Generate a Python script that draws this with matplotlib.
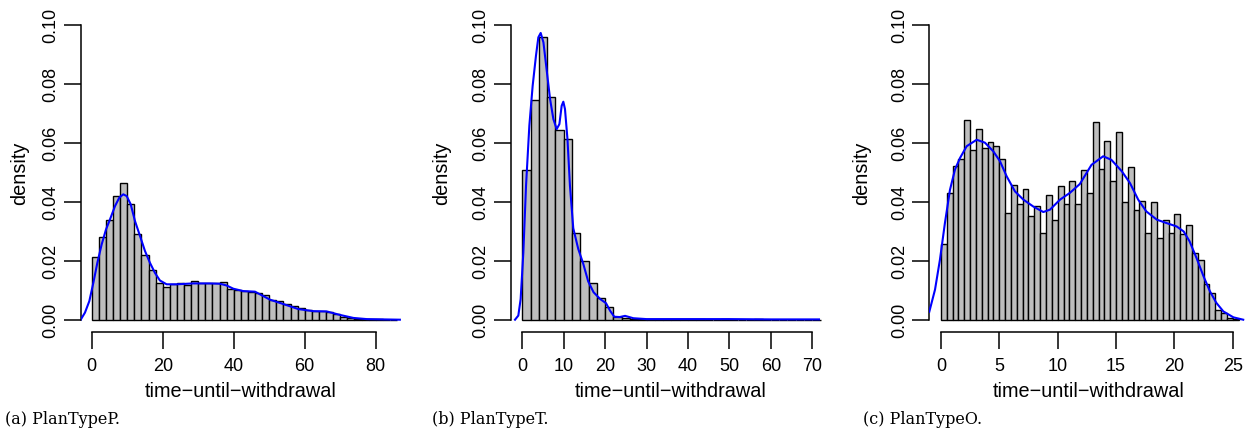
import matplotlib
matplotlib.use('Agg')
import matplotlib.pyplot as plt
import numpy as np

# histogram bar heights (density)
p_bin_width = 2
p_heights = [0.0214, 0.0280, 0.0338, 0.0421, 0.0463, 0.0391, 0.0289, 0.0218, 0.0168, 0.0125,
             0.0111, 0.0120, 0.0123, 0.0116, 0.0130, 0.0125, 0.0123, 0.0123, 0.0128, 0.0105,
             0.0101, 0.0096, 0.0094, 0.0092, 0.0085, 0.0068, 0.0062, 0.0052, 0.0047, 0.0040,
             0.0032, 0.0029, 0.0029, 0.0025, 0.0018, 0.0010, 0.0005, 0.0003, 0.0002, 0.0001,
             0.0001, 0.0, 0.0]

t_bin_width = 2
t_heights = [0.0508, 0.0745, 0.0957, 0.0756, 0.0643, 0.0612, 0.0294, 0.0199, 0.0126, 0.0075,
             0.0042, 0.0008, 0.0006, 0.0004, 0.0003, 0.0002, 0.0002, 0.0001, 0.0001, 0.0001,
             0.0001, 0.0001, 0.0, 0.0, 0.0001, 0.0, 0.0, 0.0, 0.0001, 0.0,
             0.0, 0.0, 0.0, 0.0, 0.0, 0.0]

o_bin_width = 0.5
o_heights = [0.0257, 0.0428, 0.0520, 0.0545, 0.0676, 0.0576, 0.0647, 0.0582, 0.0601, 0.0588,
             0.0546, 0.0362, 0.0458, 0.0392, 0.0443, 0.0353, 0.0384, 0.0294, 0.0424, 0.0337,
             0.0454, 0.0393, 0.0470, 0.0391, 0.0506, 0.0429, 0.0670, 0.0512, 0.0605, 0.0469,
             0.0636, 0.0398, 0.0518, 0.0373, 0.0401, 0.0294, 0.0398, 0.0277, 0.0337, 0.0294,
             0.0358, 0.0292, 0.0320, 0.0226, 0.0203, 0.0122, 0.0090, 0.0034, 0.0023, 0.0006,
             0.0002]

# density curves (blue)
p_curve_x = [-3.1, -1.9, -0.67, 0.46, 1.59, 2.8, 4.03, 5.15, 6.56, 7.78, 8.9, 9.86, 10.99, 12.2,
             13.6, 15.0, 16.4, 17.8, 19.2, 21.1, 23.9, 28.6, 33.3, 36.1, 38.0, 39.9, 42.7, 46.0,
             50.2, 54.0, 58.2, 62.4, 66.2, 70.0, 73.7, 77.5, 86.8]
p_curve_y = [0.0, 0.0024, 0.0063, 0.0125, 0.0193, 0.0255, 0.0306, 0.0340, 0.0385, 0.0414, 0.0425,
             0.0419, 0.0391, 0.0334, 0.0284, 0.0233, 0.0193, 0.0159, 0.0133, 0.0120, 0.0120,
             0.0123, 0.0123, 0.0122, 0.0116, 0.0105, 0.0097, 0.0095, 0.0068, 0.0053, 0.0036,
             0.0029, 0.0028, 0.0016, 0.0006, 0.0002, 0.0]

t_curve_x = [-1.76, -0.96, -0.4, 0.25, 0.9, 1.7, 2.5, 3.3, 3.87, 4.44, 5.1, 5.9, 6.7, 7.5, 8.3,
             8.95, 9.5, 9.9, 10.3, 10.9, 11.5, 12.3, 13.5, 14.7, 15.9, 17.2, 18.8, 20.2, 21.2,
             22.2, 23.5, 24.8, 26.8, 30.0, 40.0, 50.0, 60.0, 71.6]
t_curve_y = [0.0, 0.0014, 0.0070, 0.0228, 0.0454, 0.0658, 0.0793, 0.0895, 0.0957, 0.0972, 0.0940,
             0.0844, 0.0748, 0.0680, 0.0646, 0.0663, 0.0725, 0.0739, 0.0714, 0.0612, 0.0454,
             0.0310, 0.0240, 0.0190, 0.0130, 0.0093, 0.0070, 0.0056, 0.0030, 0.0010, 0.0009,
             0.0013, 0.0005, 0.0002, 0.0002, 0.0002, 0.0001, 0.0001]

o_curve_x = [-1.0, -0.51, -0.09, 0.34, 0.77, 1.2, 1.63, 2.2, 3.06, 3.77, 4.48, 5.06, 5.63, 6.34,
             7.06, 7.9, 8.77, 9.34, 10.2, 11.05, 11.9, 12.9, 13.9, 14.6, 15.5, 16.2, 16.9, 17.6,
             18.5, 19.3, 20.2, 20.8, 21.3, 21.9, 22.5, 23.05, 23.6, 24.2, 25.06, 25.9]
o_curve_y = [0.0027, 0.0102, 0.0203, 0.0328, 0.0440, 0.0509, 0.0548, 0.0588, 0.0610, 0.0600,
             0.0571, 0.0537, 0.0486, 0.0435, 0.0407, 0.0384, 0.0365, 0.0373, 0.0407, 0.0430,
             0.0460, 0.0525, 0.0554, 0.0542, 0.0503, 0.0463, 0.0407, 0.0367, 0.0339, 0.0328,
             0.0316, 0.0299, 0.0266, 0.0209, 0.0147, 0.0096, 0.0057, 0.0028, 0.0008, 0.0]

captions = ['(a) PlanTypeP.', '(b) PlanTypeT.', '(c) PlanTypeO.']
x_ticks = [[0, 20, 40, 60, 80], [0, 10, 20, 30, 40, 50, 60, 70], [0, 5, 10, 15, 20, 25]]
y_ticks = [0.0, 0.02, 0.04, 0.06, 0.08, 0.10]
y_tick_labels = ['0.00', '0.02', '0.04', '0.06', '0.08', '0.10']
X_LABEL = 'time\u2212until\u2212withdrawal'
Y_LABEL = 'density'

panels = [
    (p_bin_width, p_heights, p_curve_x, p_curve_y),
    (t_bin_width, t_heights, t_curve_x, t_curve_y),
    (o_bin_width, o_heights, o_curve_x, o_curve_y),
]

# layout (pixels)
W, H = 1245, 435
AX_TOP, AX_BOTTOM = 13.9, 332.5
AX_LR = [(80.7, 401.3), (510.7, 831.0), (929.3, 1248.7)]
X_LIMS = [(-3.1, 87.2), (-2.8, 74.5), (-1.0, 26.37)]
Y_LIM = (-0.004, 0.104)
YLABEL_X = [20, 442, 862]
CAPTION_X = [5, 432, 863]
CAPTION_Y = 420
TICK_SIZE = 13
LABEL_SIZE = 14.3

plt.rcParams['font.family'] = ['Liberation Sans', 'DejaVu Sans']
plt.rcParams['axes.linewidth'] = 1.1

fig = plt.figure(figsize=(W / 100, H / 100), dpi=100)

for i, (bw, heights, cx, cy) in enumerate(panels):
    l, r = AX_LR[i]
    ax = fig.add_axes([l / W, 1 - AX_BOTTOM / H, (r - l) / W, (AX_BOTTOM - AX_TOP) / H])
    ax.patch.set_alpha(0)

    edges = np.arange(len(heights)) * bw
    ax.bar(edges, heights, width=bw, align='edge', color='#bebebe',
           edgecolor='black', linewidth=1.0, zorder=2)
    ax.plot(cx, cy, color='#0000ff', linewidth=1.5, zorder=3)

    ax.set_xlim(X_LIMS[i])
    ax.set_ylim(Y_LIM)

    for side in ['top', 'right']:
        ax.spines[side].set_visible(False)
    ax.spines['bottom'].set_bounds(x_ticks[i][0], x_ticks[i][-1])
    ax.spines['left'].set_bounds(y_ticks[0], y_ticks[-1])

    ax.set_xticks(x_ticks[i])
    ax.set_xticklabels([str(t) for t in x_ticks[i]])
    ax.set_yticks(y_ticks)
    ax.set_yticklabels(y_tick_labels, rotation=90, va='center')
    ax.tick_params(axis='both', direction='out', length=12, width=1.1,
                   labelsize=TICK_SIZE, color='black')
    ax.tick_params(axis='x', pad=6.5)
    ax.tick_params(axis='y', pad=3.5)

    ax.set_xlabel(X_LABEL, fontsize=LABEL_SIZE, labelpad=5)
    fig.text(YLABEL_X[i] / W, 1 - (AX_TOP + AX_BOTTOM) / 2 / H, Y_LABEL, rotation=90,
             ha='center', va='center', fontsize=LABEL_SIZE)
    fig.text(CAPTION_X[i] / W, 1 - CAPTION_Y / H, captions[i],
             family='DejaVu Serif', fontsize=11.5, va='center')

plt.savefig('out.png', dpi=100)
